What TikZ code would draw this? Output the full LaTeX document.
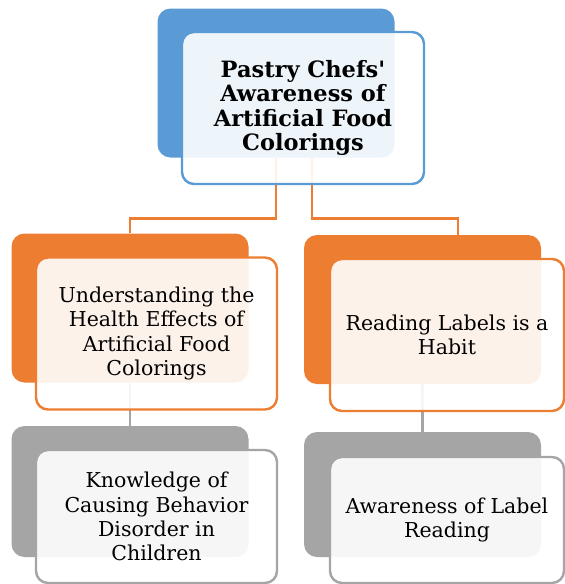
\documentclass[tikz,border=0pt]{standalone}
\usepackage{fontspec}
\setmainfont{DejaVu Serif}
\definecolor{blueback}{HTML}{5B9BD5}
\definecolor{orangeback}{HTML}{ED7D31}
\definecolor{grayback}{HTML}{A5A5A5}

\begin{document}
\begin{tikzpicture}[x=1pt,y=-1pt,
        back/.style={rounded corners=13pt,fill=#1,minimum width=237pt,minimum height=149pt},
        front/.style={rounded corners=12pt,draw=#1,line width=2.4pt,fill=white,fill opacity=0.9,text opacity=1,
            minimum width=241pt,minimum height=152pt,align=center,font=\fontsize{20.5}{24.3}\selectfont},
        link/.style={draw=#1,line width=2.6pt}]
        \useasboundingbox (0,0) rectangle (565,584);
        \node[back=blueback] (pastryback) at (276,83) {};
        \node[back=orangeback] (healthback) at (130,308) {};
        \node[back=orangeback] (labelsback) at (422.5,309.5) {};
        \node[back=grayback,minimum height=131pt] (disorderback) at (130,491.5) {};
        \node[back=grayback,minimum height=125pt] (readingback) at (422.5,494.5) {};
        \draw[link=orangeback] (pastryback.south) -- ++(0,61) -| (healthback.north);
        \draw[link=orangeback] ([xshift=36pt]pastryback.south) -- ++(0,61) -| ([xshift=35.5pt]labelsback.north);
        \draw[link=grayback] (healthback.south) -- (disorderback.north);
        \draw[link=grayback] (labelsback.south) -- (readingback.north);
        \node[front=blueback,minimum width=242pt,font=\fontsize{22.5}{24.3}\selectfont\bfseries] (pastry) at (303,108)
            {Pastry Chefs\textquotesingle\\Awareness of\\Artificial Food\\Colorings};
        \node[front=orangeback] (health) at (156.5,333.5) {Understanding the\\Health Effects of\\Artificial Food\\Colorings};
        \node[front=orangeback,minimum width=234pt] (labels) at (447,335) {Reading Labels is a\\Habit};
        \node[front=grayback,minimum height=133pt] (disorder) at (156.5,516.5) {Knowledge of\\Causing Behavior\\Disorder in\\Children};
        \node[front=grayback,minimum width=234pt,minimum height=126pt] (reading) at (447,520) {Awareness of Label\\Reading};
\end{tikzpicture}
\end{document}
